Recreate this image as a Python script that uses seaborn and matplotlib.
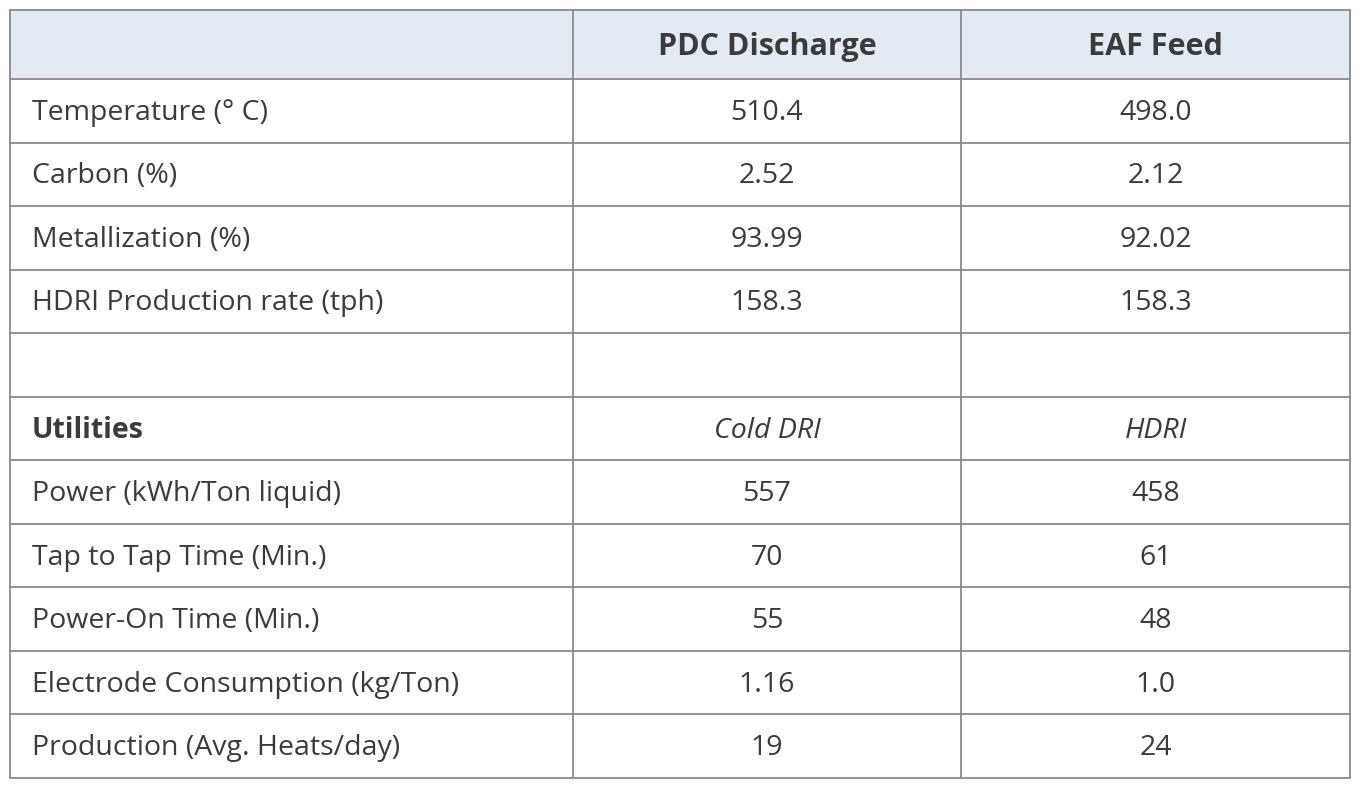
import matplotlib.pyplot as plt
import seaborn as sns

sns.set_theme(style="white")
plt.rcParams["font.family"] = ["Open Sans", "DejaVu Sans"]

col_headers = ["", "PDC Discharge", "EAF Feed"]
row_labels = [
    "Temperature (° C)", "Carbon (%)", "Metallization (%)",
    "HDRI Production rate (tph)", "", "Utilities",
    "Power (kWh/Ton liquid)", "Tap to Tap Time (Min.)", "Power-On Time (Min.)",
    "Electrode Consumption (kg/Ton)", "Production (Avg. Heats/day)",
]
pdc_values = ["510.4", "2.52", "93.99", "158.3", "", "Cold DRI",
              "557", "70", "55", "1.16", "19"]
eaf_values = ["498.0", "2.12", "92.02", "158.3", "", "HDRI",
              "458", "61", "48", "1.0", "24"]

W, H = 1361, 788
fig = plt.figure(figsize=(W / 100, H / 100), dpi=100)
ax = fig.add_axes([0, 0, 1, 1])
ax.set_xlim(0, W)
ax.set_ylim(H, 0)
ax.axis("off")

xs = [10, 573, 961, 1350]
y_top, y_head, y_bot = 10, 79, 778
n = len(row_labels)
step = (y_bot - y_head) / n
ys = [y_top, y_head] + [y_head + step * (i + 1) for i in range(n)]

text_color = "#3b3b3b"
line_color = "#8a8a8a"

ax.add_patch(plt.Rectangle((xs[0], y_top), xs[-1] - xs[0], y_head - y_top,
                           facecolor="#e2eaf4", edgecolor="none"))
for y in ys:
    ax.plot([xs[0], xs[-1]], [y, y], color=line_color, lw=1.3)
for x in xs:
    ax.plot([x, x], [y_top, y_bot], color=line_color, lw=1.3)

for j, h in enumerate(col_headers):
    if h:
        ax.text((xs[j] + xs[j + 1]) / 2, (y_top + y_head) / 2 + 2, h, ha="center",
                va="center", fontsize=22, fontweight="bold", color=text_color)

for i in range(n):
    yc = (ys[i + 1] + ys[i + 2]) / 2 + 2
    is_util = row_labels[i] == "Utilities"
    ax.text(xs[0] + 22, yc, row_labels[i], ha="left", va="center", fontsize=20.5,
            color=text_color, fontweight="bold" if is_util else "normal")
    style = "italic" if is_util else "normal"
    ax.text((xs[1] + xs[2]) / 2, yc, pdc_values[i], ha="center", va="center",
            fontsize=20.5, color=text_color, style=style)
    ax.text((xs[2] + xs[3]) / 2, yc, eaf_values[i], ha="center", va="center",
            fontsize=20.5, color=text_color, style=style)

fig.savefig("out.png", dpi=100, facecolor="white")
